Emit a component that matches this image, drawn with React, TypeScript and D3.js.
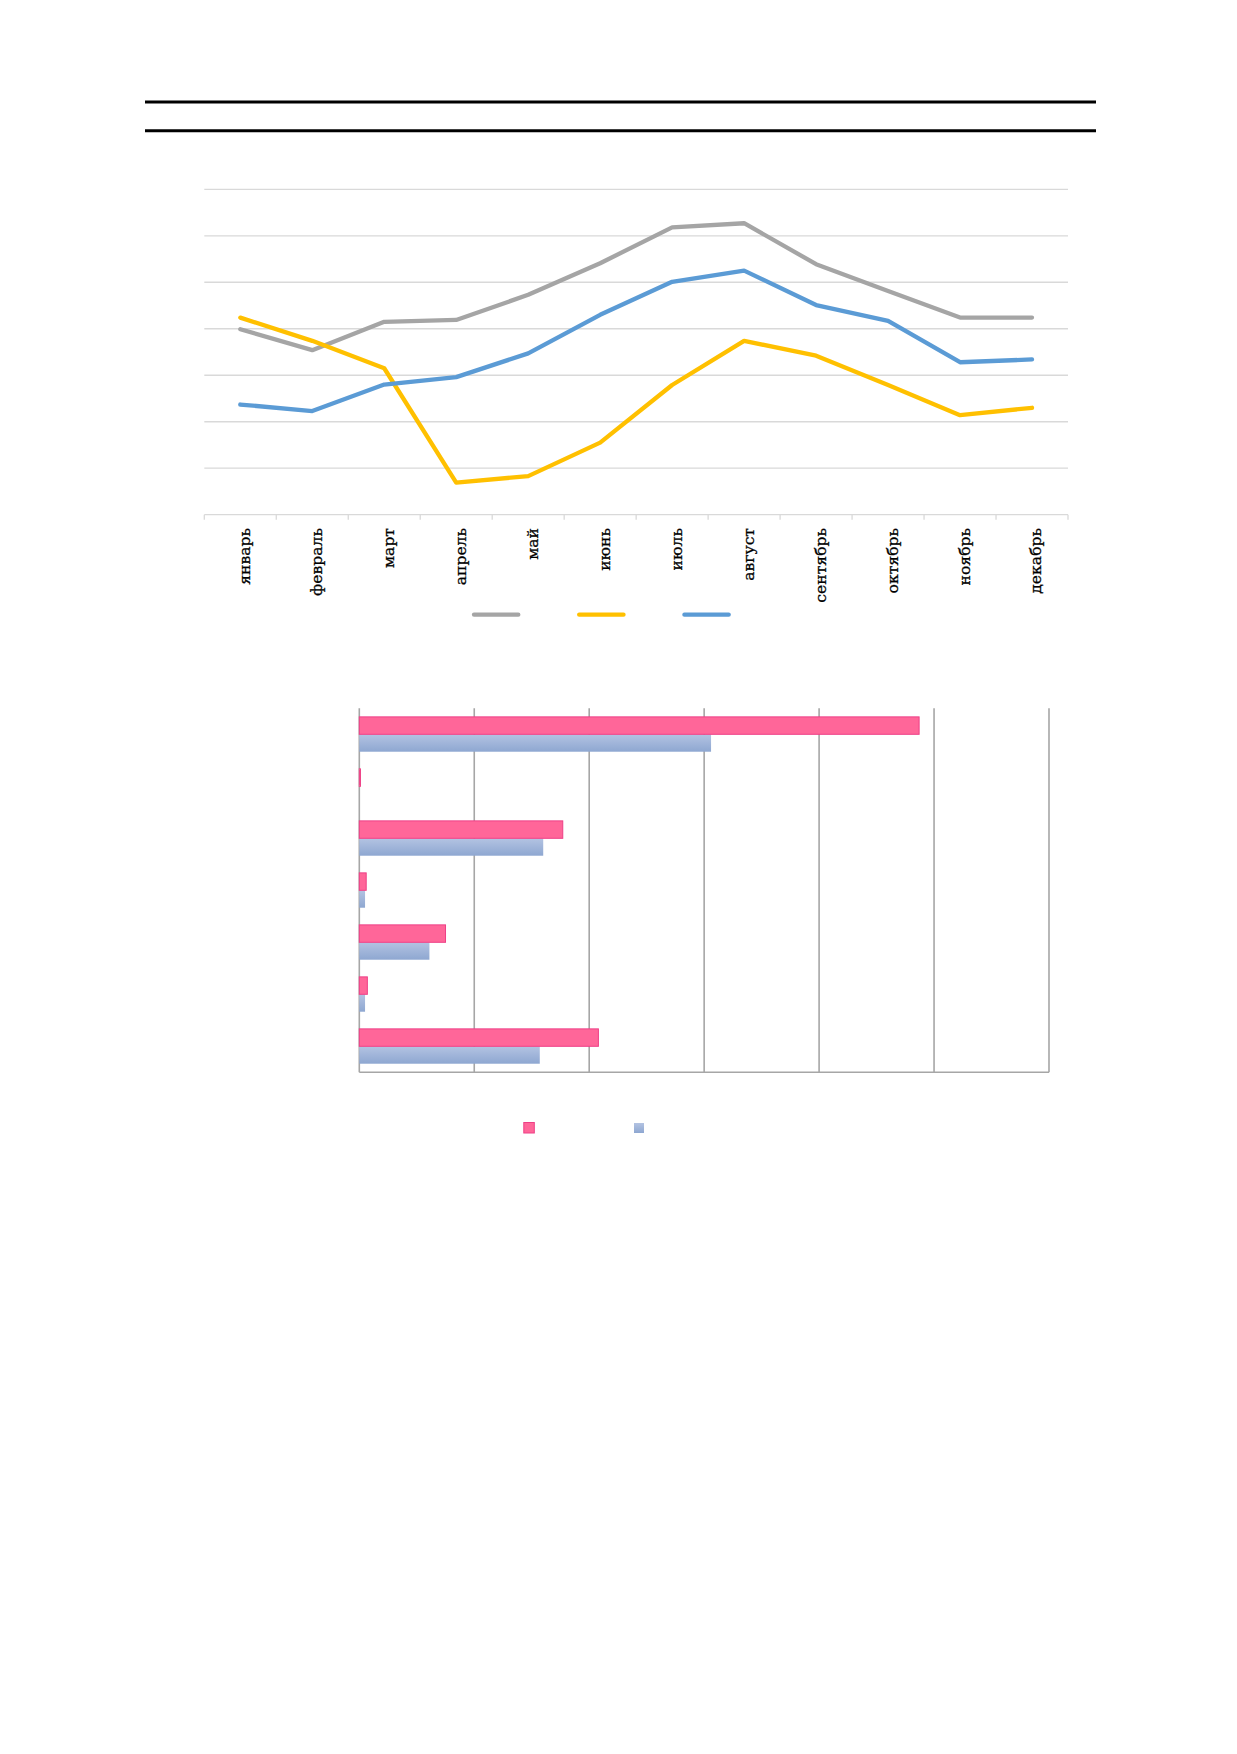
import { scaleBand, scaleLinear, line } from 'd3';

// ---------- data ----------
const months = [
  'январь', 'февраль', 'март', 'апрель', 'май', 'июнь',
  'июль', 'август', 'сентябрь', 'октябрь', 'ноябрь', 'декабрь',
];
const grayValues = [39.9, 35.4, 41.5, 41.9, 47.3, 54.1, 61.8, 62.7, 53.9, 48.1, 42.4, 42.4];
const yellowValues = [42.4, 37.4, 31.5, 6.9, 8.3, 15.5, 27.9, 37.4, 34.2, 27.9, 21.4, 23.0];
const blueValues = [23.7, 22.3, 28.0, 29.6, 34.7, 43.0, 50.1, 52.5, 45.1, 41.7, 32.8, 33.4];
const lineTicks = [0, 10, 20, 30, 40, 50, 60, 70];

const barCategories = ['1', '2', '3', '4', '5', '6', '7'];
const pinkValues = [48.7, 0.1, 17.7, 0.6, 7.5, 0.7, 20.8];
const steelValues = [30.6, 0, 16.0, 0.5, 6.1, 0.5, 15.7];
const barTicks = [0, 10, 20, 30, 40, 50, 60];

// ---------- styles ----------
const GRAY = '#a5a5a5';
const YELLOW = '#ffc000';
const BLUE = '#5b9bd5';
const GRID = '#d9d9d9';
const PINK = '#ff6699';
const PINK_STROKE = '#ee3f86';
const BAR_GRID = '#a6a6a6';

const lineSeries = [
  { key: 'gray', color: GRAY, values: grayValues },
  { key: 'yellow', color: YELLOW, values: yellowValues },
  { key: 'blue', color: BLUE, values: blueValues },
];

function LineChart() {
  const left = 204.3;
  const right = 1068;
  const top = 189.3;
  const bottom = 514.7;

  const x = scaleBand<string>().domain(months).range([left, right]).padding(0);
  const y = scaleLinear().domain([0, 70]).range([bottom, top]);
  const cx = (m: string) => (x(m) ?? 0) + x.bandwidth() / 2;

  const gen = line<number>()
    .x((_, i) => cx(months[i]))
    .y((d) => y(d));

  const boundaries = months.map((m) => x(m) ?? 0).concat([right]);

  return (
    <g>
      {lineTicks.map((t) => (
        <line key={t} x1={left} x2={right} y1={y(t)} y2={y(t)} stroke={GRID} strokeWidth={1.3} />
      ))}
      {boundaries.map((b, i) => (
        <line key={i} x1={b} x2={b} y1={bottom} y2={bottom + 5} stroke={GRID} strokeWidth={1.3} />
      ))}
      {months.map((m) => (
        <text
          key={m}
          transform={`translate(${cx(m) + 4},${528}) rotate(-90)`}
          textAnchor="end"
          dy="0.35em"
          fontFamily="'DejaVu Serif', serif"
          fontSize={15.6}
          fill="#000"
          stroke="#000"
          strokeWidth={0.3}
        >
          {m}
        </text>
      ))}
      {lineSeries.map((s) => (
        <path
          key={s.key}
          d={gen(s.values) ?? ''}
          fill="none"
          stroke={s.color}
          strokeWidth={4.3}
          strokeLinecap="round"
          strokeLinejoin="round"
        />
      ))}
      {/* legend */}
      {lineSeries.map((s, i) => (
        <line
          key={s.key}
          x1={474 + i * 105.2}
          x2={518.3 + i * 105.2}
          y1={614.7}
          y2={614.7}
          stroke={s.color}
          strokeWidth={4.3}
          strokeLinecap="round"
        />
      ))}
    </g>
  );
}

function BarChart() {
  const left = 359.3;
  const right = 1049;
  const top = 708.3;
  const bottom = 1072.3;

  const x = scaleLinear().domain([0, 60]).range([left, right]);
  const y = scaleBand<string>()
    .domain(barCategories)
    .range([top, bottom])
    .paddingInner(0.33)
    .paddingOuter(0.165);
  const inner = scaleBand<string>().domain(['pink', 'steel']).range([0, y.bandwidth()]);

  return (
    <g>
      <defs>
        <linearGradient id="steelGrad" x1="0" y1="0" x2="0" y2="1">
          <stop offset="0%" stopColor="#b3c3e2" />
          <stop offset="100%" stopColor="#8ea7d1" />
        </linearGradient>
      </defs>
      {barTicks.map((t) => (
        <line key={t} x1={x(t)} x2={x(t)} y1={top} y2={bottom} stroke={BAR_GRID} strokeWidth={1.6} />
      ))}
      {barCategories.map((c, i) => {
        const y0 = y(c) ?? 0;
        return (
          <g key={c}>
            <rect
              x={x(0)}
              y={y0 + (inner('steel') ?? 0)}
              width={x(steelValues[i]) - x(0)}
              height={inner.bandwidth()}
              fill="url(#steelGrad)"
            />
            <rect
              x={x(0)}
              y={y0 + (inner('pink') ?? 0)}
              width={Math.max(0.8, x(pinkValues[i]) - x(0))}
              height={inner.bandwidth()}
              fill={PINK}
              stroke={PINK_STROKE}
              strokeWidth={1}
            />
          </g>
        );
      })}
      <line x1={left} x2={right} y1={bottom} y2={bottom} stroke={BAR_GRID} strokeWidth={1.6} />
      {/* legend */}
      <rect x={523.8} y={1122.5} width={10.5} height={10.5} fill={PINK} stroke={PINK_STROKE} strokeWidth={1} />
      <rect x={634} y={1123} width={10} height={10} fill="url(#steelGrad)" />
    </g>
  );
}

export default function App() {
  return (
    <svg
      width={1237}
      height={1754}
      style={{ position: 'absolute', left: 0, top: 0, background: '#fff' }}
    >
      <rect width={1237} height={1754} fill="#fff" />
      <line x1={145} x2={1096} y1={102} y2={102} stroke="#000" strokeWidth={3} />
      <line x1={145} x2={1096} y1={130.7} y2={130.7} stroke="#000" strokeWidth={3} />
      <LineChart />
      <BarChart />
    </svg>
  );
}
